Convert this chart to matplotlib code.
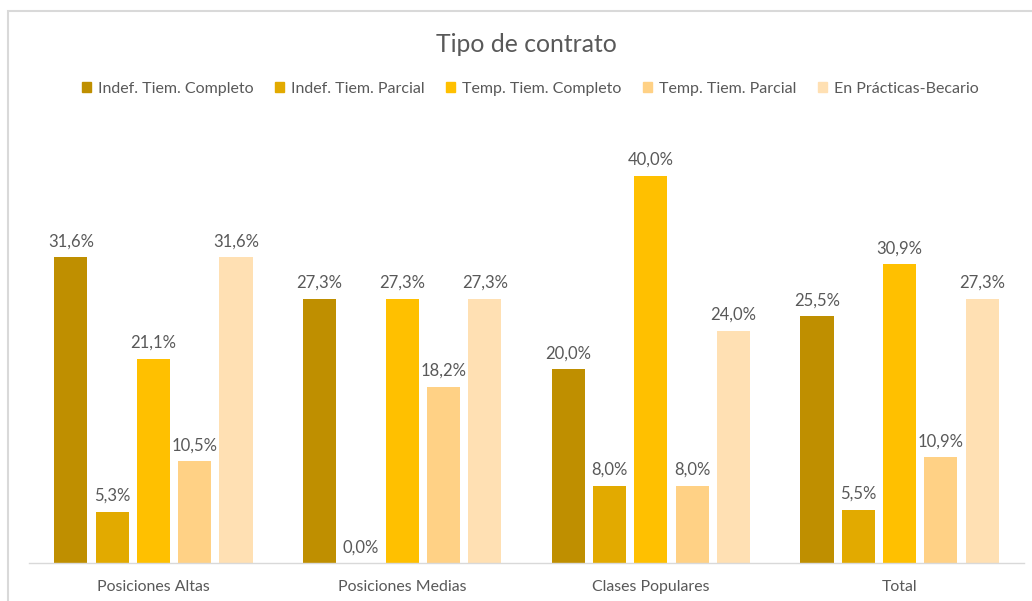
import numpy as np
import matplotlib.pyplot as plt
from matplotlib.patches import Rectangle, Patch

categories = ["Posiciones Altas", "Posiciones Medias", "Clases Populares", "Total"]
series = ["Indef. Tiem. Completo", "Indef. Tiem. Parcial", "Temp. Tiem. Completo",
          "Temp. Tiem. Parcial", "En Prácticas-Becario"]
indef_completo = [31.6, 27.3, 20.0, 25.5]
indef_parcial = [5.3, 0.0, 8.0, 5.5]
temp_completo = [21.1, 27.3, 40.0, 30.9]
temp_parcial = [10.5, 18.2, 8.0, 10.9]
practicas = [31.6, 27.3, 24.0, 27.3]
colors = ["#BF8F00", "#E2AA00", "#FFC000", "#FFD185", "#FFE0B3"]

plt.rcParams['font.family'] = ['Lato', 'DejaVu Sans']
text_color = "#595959"

fig = plt.figure(figsize=(10.32, 6.01), dpi=100)
W, H = 1032, 601
y0, ymax = 563, 45
ppu = 306 / 31.6
ytop = y0 - ymax * ppu
ax = fig.add_axes([29 / W, (H - y0) / H, (1024 - 29) / W, (y0 - ytop) / H])

x = np.arange(len(categories))
width = 0.133
pitch = 0.166
data = [indef_completo, indef_parcial, temp_completo, temp_parcial, practicas]
for i, (vals, c) in enumerate(zip(data, colors)):
    pos = x + (i - 2) * pitch
    ax.bar(pos, vals, width=width, color=c, zorder=2)
    for p, v in zip(pos, vals):
        ax.annotate(f"{v:.1f}%".replace(".", ","), (p, v), xytext=(0, 5.5),
                    textcoords="offset points", ha="center", va="bottom",
                    fontsize=12, color=text_color)

ax.set_xlim(-0.5, len(categories) - 0.5)
ax.set_ylim(0, ymax)
ax.set_yticks([])
ax.set_xticks(x)
ax.set_xticklabels(categories, fontsize=11.4, color=text_color)
ax.tick_params(axis="x", length=0, pad=12)
for s in ["top", "left", "right"]:
    ax.spines[s].set_visible(False)
ax.spines["bottom"].set_color("#D9D9D9")
ax.spines["bottom"].set_linewidth(1)

fig.text(526 / W, 1 - 44 / H, "Tipo de contrato", ha="center", va="center",
         fontsize=17.8, color=text_color)

handles = [Patch(color=c) for c in colors]
fig.legend(handles, series, loc="center", bbox_to_anchor=(530 / W, 1 - 89 / H),
           ncol=5, frameon=False, fontsize=11.5, labelcolor=text_color,
           handlelength=0.6, handleheight=0.6, handletextpad=0.4, columnspacing=1.35)

# chart border (cropped at right and bottom)
fig.patches.append(Rectangle((7.5 / W, -0.1), 1.2, 1.1 - 10.5 / H, transform=fig.transFigure,
                             fill=False, edgecolor="#D9D9D9", linewidth=1.5))

fig.savefig("out.png", dpi=100)
